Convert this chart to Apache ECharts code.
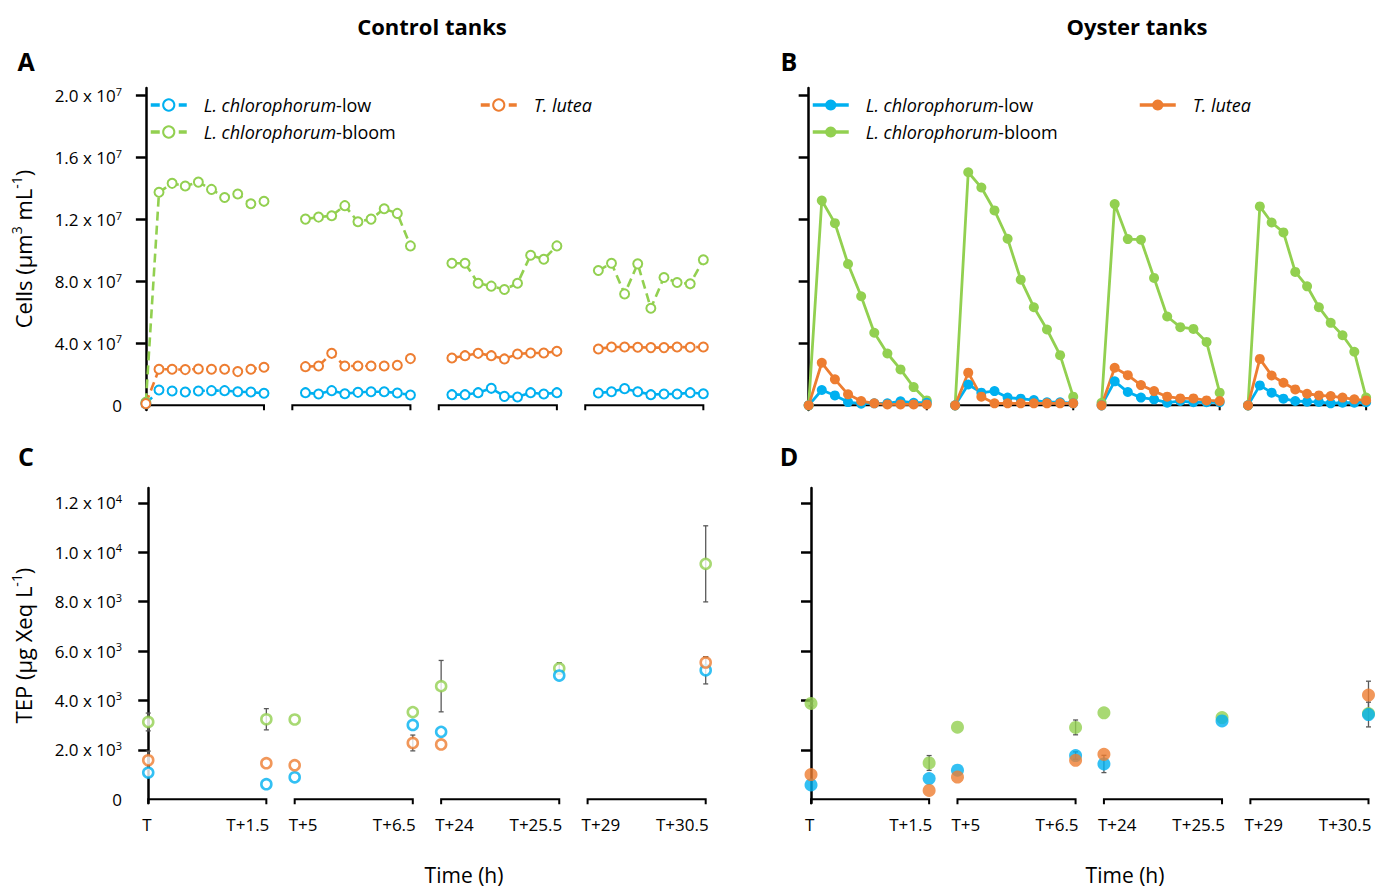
<!DOCTYPE html>
<html>
<head>
<meta charset="utf-8">
<style>
html, body { margin: 0; padding: 0; background: #fff; }
#chart { width: 1380px; height: 890px; }
</style>
<script src="https://cdn.jsdelivr.net/npm/echarts@6.0.0/dist/echarts.min.js"></script>
</head>
<body>
<div id="chart"></div>
<script>
// Sampling windows (labels of start / end of each 1.5 h window)
const windowStart = ['T', 'T+5', 'T+24', 'T+29'];
const windowEnd = ['T+1.5', 'T+6.5', 'T+25.5', 'T+30.5'];

// Sampling times inside each window (minutes after window start)
const minControl = [
  [0, 10, 20, 30, 40, 50, 60, 70, 80, 90],
  [10, 20, 30, 40, 50, 60, 70, 80, 90],
  [10, 20, 30, 40, 50, 60, 70, 80, 90],
  [10, 20, 30, 40, 50, 60, 70, 80, 90]
];
const minOyster = [
  [0, 10, 20, 30, 40, 50, 60, 70, 80, 90],
  [0, 10, 20, 30, 40, 50, 60, 70, 80, 90],
  [0, 10, 20, 30, 40, 50, 60, 70, 80, 90],
  [0, 9, 18, 27, 36, 45, 54, 63, 72, 81, 90]
];

// Cells, control tanks (x 10^7 um3/mL)
const lowA = [
  [0.01, 0.099, 0.093, 0.086, 0.093, 0.095, 0.095, 0.088, 0.086, 0.078],
  [0.082, 0.073, 0.095, 0.075, 0.084, 0.088, 0.088, 0.080, 0.067],
  [0.069, 0.069, 0.082, 0.110, 0.058, 0.054, 0.082, 0.073, 0.082],
  [0.080, 0.088, 0.108, 0.088, 0.069, 0.073, 0.073, 0.082, 0.075]
];
const bloomA = [
  [0.02, 1.376, 1.434, 1.417, 1.442, 1.395, 1.343, 1.365, 1.302, 1.318],
  [1.203, 1.216, 1.225, 1.290, 1.186, 1.203, 1.270, 1.240, 1.030],
  [0.918, 0.918, 0.789, 0.770, 0.748, 0.789, 0.970, 0.944, 1.030],
  [0.871, 0.918, 0.720, 0.914, 0.627, 0.826, 0.794, 0.785, 0.940]
];
const luteaA = [
  [0.011, 0.233, 0.233, 0.231, 0.235, 0.233, 0.233, 0.218, 0.233, 0.246],
  [0.250, 0.254, 0.336, 0.254, 0.254, 0.254, 0.254, 0.259, 0.302],
  [0.306, 0.321, 0.336, 0.321, 0.300, 0.332, 0.338, 0.338, 0.349],
  [0.364, 0.377, 0.377, 0.375, 0.373, 0.373, 0.377, 0.375, 0.377]
];

// Cells, oyster tanks (x 10^7 um3/mL)
const lowB = [
  [0, 0.099, 0.064, 0.021, 0.011, 0.013, 0.013, 0.026, 0.017, 0.017],
  [0, 0.135, 0.082, 0.092, 0.050, 0.043, 0.034, 0.020, 0.020, 0.013],
  [0, 0.155, 0.086, 0.050, 0.039, 0.017, 0.028, 0.020, 0.020, 0.020],
  [0, 0.129, 0.082, 0.043, 0.028, 0.024, 0.022, 0.013, 0.017, 0.017, 0.020]
];
const bloomB = [
  [0, 1.323, 1.177, 0.913, 0.705, 0.469, 0.335, 0.232, 0.118, 0.032],
  [0, 1.506, 1.407, 1.259, 1.076, 0.812, 0.634, 0.490, 0.324, 0.056],
  [0.017, 1.300, 1.074, 1.070, 0.823, 0.574, 0.505, 0.494, 0.410, 0.082],
  [0, 1.285, 1.181, 1.117, 0.862, 0.769, 0.634, 0.533, 0.453, 0.346, 0.050]
];
const luteaB = [
  [0, 0.275, 0.168, 0.071, 0.028, 0.013, 0.006, 0.006, 0.006, 0.006],
  [0, 0.211, 0.056, 0.013, 0.013, 0.013, 0.013, 0.013, 0.013, 0.013],
  [0, 0.243, 0.195, 0.131, 0.092, 0.056, 0.045, 0.045, 0.032, 0.028],
  [0, 0.300, 0.193, 0.146, 0.103, 0.075, 0.064, 0.060, 0.050, 0.039, 0.032]
];

// TEP (ug Xeq/L) at T, T+1.5, T+5, T+6.5, T+24, T+25.5, T+29, T+30.5
const tepLowC = [1080, 610, 890, 3010, 2730, 5010, null, 5220];
const tepLowCsd = [null, null, null, null, null, null, null, 550];
const tepBloomC = [3130, 3240, 3230, 3530, 4580, 5300, null, 9530];
const tepBloomCsd = [360, 430, null, null, 1040, 230, null, 1540];
const tepLuteaC = [1580, 1460, 1380, 2280, 2220, null, null, 5540];
const tepLuteaCsd = [370, null, null, 320, null, null, null, 230];

const tepLowD = [580, 840, 1180, 1770, 1430, 3170, null, 3430];
const tepLowDsd = [null, null, null, 150, 350, null, null, 500];
const tepBloomD = [3880, 1470, 2920, 2910, 3500, 3310, null, 3470];
const tepBloomDsd = [100, 300, null, 300, null, null, null, null];
const tepLuteaD = [1000, 360, 900, 1580, 1820, null, null, 4220];
const tepLuteaDsd = [null, null, null, null, null, null, null, 560];

// Y tick labels
const cellTicks = [0, 0.4, 0.8, 1.2, 1.6, 2.0];
const cellTickText = ['0', '4.0 x 10', '8.0 x 10', '1.2 x 10', '1.6 x 10', '2.0 x 10'];
const cellTickExp = ['', '7', '7', '7', '7', '7'];
const tepTicks = [0, 2000, 4000, 6000, 8000, 10000, 12000];
const tepTickText = ['0', '2.0 x 10', '4.0 x 10', '6.0 x 10', '8.0 x 10', '1.0 x 10', '1.2 x 10'];
const tepTickExp = ['', '3', '3', '3', '3', '4', '4'];

// layout of the broken time axis: where each window starts (h on plot)
const winPos = [0, 1.86, 3.72, 5.58];
const winLen = 1.5;

const BLUE = '#00B0F0';
const GREEN = '#92D050';
const ORANGE = '#ED7D31';
const FONT = '"Open Sans", "Noto Sans", sans-serif';

const legendText = {
  lowA: '{i|L. chlorophorum}{n|-low}',
  bloomA: '{i|L. chlorophorum}{n|-bloom}',
  luteaA: '{i|T. lutea}',
  lowB: '{i|L. chlorophorum}{n|-low}',
  bloomB: '{i|L. chlorophorum}{n|-bloom}',
  luteaB: '{i|T. lutea}'
};

function lineData(mins, vals) {
  const out = [];
  mins.forEach((m, s) => {
    m.forEach((t, i) => out.push([winPos[s] + t / 60, vals[s][i]]));
    out.push([winPos[s] + winLen + 0.1, null]);
  });
  return out;
}

function tepX(i) {
  return winPos[Math.floor(i / 2)] + (i % 2) * winLen;
}

function tepData(vals) {
  const out = [];
  vals.forEach((v, i) => { if (v != null) out.push([tepX(i), v]); });
  return out;
}

function errData(list) {
  const out = [];
  list.forEach(([vals, sd]) => {
    vals.forEach((v, i) => {
      if (v != null && sd[i] != null) out.push([tepX(i), v - sd[i], v + sd[i]]);
    });
  });
  return out;
}

function fmtTick(v, ticks, txt, exp) {
  const i = ticks.findIndex(t => Math.abs(t - v) < 1e-6);
  if (i < 0) return '';
  return exp[i] ? '{m|' + txt[i] + '}{e|' + exp[i] + '}' : '{m|' + txt[i] + '}';
}

const tickRich = {
  m: { fontSize: 17, fontFamily: FONT, color: '#000', lineHeight: 20 },
  e: { fontSize: 11, fontFamily: FONT, color: '#000', lineHeight: 9, verticalAlign: 'top' }
};

const nameRich = {
  a: { fontSize: 22, fontFamily: FONT, color: '#000', lineHeight: 28 },
  s: { fontSize: 14, fontFamily: FONT, color: '#000', lineHeight: 14, verticalAlign: 'top' }
};

function yAxisCfg(grid, min, max, ticks, txt, exp, showLabels, name) {
  return {
    type: 'value', gridIndex: grid, min: min, max: max,
    name: name || '', nameLocation: 'middle', nameGap: 101, nameRotate: 90,
    nameTextStyle: { rich: nameRich },
    axisLine: { show: true, lineStyle: { color: '#000', width: 2.5 } },
    axisTick: { show: true, length: 10, lineStyle: { color: '#000', width: 2.5 },
      customValues: ticks.slice(1) },
    axisLabel: { show: showLabels, margin: 16, customValues: ticks,
      formatter: v => fmtTick(v, ticks, txt, exp), rich: tickRich },
    splitLine: { show: false }
  };
}

function xAxisCfg(grid, min, max) {
  return { type: 'value', gridIndex: grid, min: min, max: max, show: false };
}

function bracketSeries(grid, withLabels) {
  return {
    type: 'custom', xAxisIndex: grid, yAxisIndex: grid, z: 1, clip: false, silent: true,
    data: winPos.map(p => [p, p + winLen, 0]),
    encode: { x: [0, 1], y: 2 },
    renderItem: function (params, api) {
      const a = api.coord([api.value(0), 0]);
      const b = api.coord([api.value(1), 0]);
      const y = a[1];
      const kids = [{
        type: 'polyline',
        shape: { points: [[a[0], y + 5], [a[0], y], [b[0], y], [b[0], y + 5]] },
        style: { stroke: '#000', lineWidth: 2, fill: null }
      }];
      if (withLabels) {
        kids.push({ type: 'text', x: a[0] - 6, y: y + 25,
          style: { text: windowStart[params.dataIndex], font: '17px ' + FONT, fill: '#000',
            textAlign: 'left', textVerticalAlign: 'middle' } });
        kids.push({ type: 'text', x: b[0] + 3, y: y + 25,
          style: { text: windowEnd[params.dataIndex], font: '17px ' + FONT, fill: '#000',
            textAlign: 'right', textVerticalAlign: 'middle' } });
      }
      return { type: 'group', children: kids };
    }
  };
}

function errSeries(grid, data) {
  return {
    type: 'custom', xAxisIndex: grid, yAxisIndex: grid, z: 2, silent: true,
    data: data, encode: { x: 0, y: [1, 2] },
    renderItem: function (params, api) {
      const x = api.value(0);
      const lo = api.coord([x, api.value(1)]);
      const hi = api.coord([x, api.value(2)]);
      const st = { stroke: '#595959', lineWidth: 1.3 };
      const w = 2.5;
      return { type: 'group', children: [
        { type: 'line', shape: { x1: lo[0], y1: lo[1], x2: hi[0], y2: hi[1] }, style: st },
        { type: 'line', shape: { x1: lo[0] - w, y1: lo[1], x2: lo[0] + w, y2: lo[1] }, style: st },
        { type: 'line', shape: { x1: hi[0] - w, y1: hi[1], x2: hi[0] + w, y2: hi[1] }, style: st }
      ] };
    }
  };
}

function controlLine(name, vals, color) {
  return {
    type: 'line', name: name, xAxisIndex: 0, yAxisIndex: 0, z: 3,
    data: lineData(minControl, vals), connectNulls: false,
    symbol: 'emptyCircle', symbolSize: 9,
    itemStyle: { color: color, borderWidth: 2.2 },
    lineStyle: { color: color, width: 2.6, type: [9, 5] },
    emphasis: { disabled: true }
  };
}

function oysterLine(name, vals, color) {
  return {
    type: 'line', name: name, xAxisIndex: 1, yAxisIndex: 1, z: 3,
    data: lineData(minOyster, vals), connectNulls: false,
    symbol: 'circle', symbolSize: 10,
    itemStyle: { color: color },
    lineStyle: { color: color, width: 2.8 },
    emphasis: { disabled: true }
  };
}

function tepScatter(grid, vals, color, open) {
  return {
    type: 'scatter', xAxisIndex: grid, yAxisIndex: grid, z: 3,
    data: tepData(vals), symbol: 'circle', symbolSize: open ? 10 : 13,
    itemStyle: open ? { color: '#fff', borderColor: color, borderWidth: 2.6 } : { color: color },
    emphasis: { disabled: true }
  };
}

function legendCfg(left, data) {
  return {
    left: left, top: 95, padding: 0, orient: 'vertical', itemWidth: 36, itemHeight: 14, itemGap: 7,
    data: data, selectedMode: false,
    lineStyle: { width: 3.5 },
    formatter: n => legendText[n],
    textStyle: {
      padding: [0, 0, 0, 12], lineHeight: 20,
      rich: {
        i: { fontSize: 18, fontStyle: 'italic', fontFamily: FONT, color: '#000' },
        n: { fontSize: 18, fontFamily: FONT, color: '#000' }
      }
    }
  };
}

function txt(text, x, y, size, bold) {
  return { type: 'text', x: x, y: y,
    style: { text: text, font: (bold ? 'bold ' : '') + size + 'px ' + FONT, fill: '#000',
      textAlign: 'center', textVerticalAlign: 'middle' } };
}

const chart = echarts.init(document.getElementById('chart'), null, { renderer: 'svg' });

chart.setOption({
  animation: false,
  backgroundColor: '#fff',
  grid: [
    { left: 138, top: 88, width: 574, height: 322 },
    { left: 800, top: 88, width: 574, height: 322 },
    { left: 138, top: 488, width: 574, height: 315 },
    { left: 800, top: 488, width: 574, height: 315 }
  ],
  xAxis: [
    xAxisCfg(0, -0.1, 7.19),
    xAxisCfg(1, -0.11, 7.18),
    xAxisCfg(2, -0.13, 7.16),
    xAxisCfg(3, -0.14, 7.15)
  ],
  yAxis: [
    yAxisCfg(0, -0.03, 2.05, cellTicks, cellTickText, cellTickExp, true,
      '{a|Cells (µm}{s|3}{a| mL}{s|-1}{a|)}'),
    yAxisCfg(1, -0.03, 2.05, cellTicks, cellTickText, cellTickExp, false),
    yAxisCfg(2, -150, 12600, tepTicks, tepTickText, tepTickExp, true,
      '{a|TEP (µg Xeq L}{s|-1}{a|)}'),
    yAxisCfg(3, -150, 12600, tepTicks, tepTickText, tepTickExp, false)
  ],
  legend: [
    legendCfg(149, ['lowA', 'bloomA']),
    legendCfg(479, ['luteaA']),
    legendCfg(811, ['lowB', 'bloomB']),
    legendCfg(1138, ['luteaB'])
  ],
  graphic: [
    txt('Control tanks', 432, 26, 22, true),
    txt('Oyster tanks', 1137, 26, 22, true),
    txt('A', 26, 61, 25, true),
    txt('B', 789, 61, 25, true),
    txt('C', 26, 456, 25, true),
    txt('D', 789, 456, 25, true),
    txt('Time (h)', 464, 875, 21, false),
    txt('Time (h)', 1125, 875, 21, false)
  ],
  series: [
    bracketSeries(0, false),
    bracketSeries(1, false),
    bracketSeries(2, true),
    bracketSeries(3, true),
    controlLine('bloomA', bloomA, GREEN),
    controlLine('lowA', lowA, BLUE),
    controlLine('luteaA', luteaA, ORANGE),
    oysterLine('bloomB', bloomB, GREEN),
    oysterLine('lowB', lowB, BLUE),
    oysterLine('luteaB', luteaB, ORANGE),
    errSeries(2, errData([[tepBloomC, tepBloomCsd], [tepLowC, tepLowCsd], [tepLuteaC, tepLuteaCsd]])),
    errSeries(3, errData([[tepBloomD, tepBloomDsd], [tepLowD, tepLowDsd], [tepLuteaD, tepLuteaDsd]])),
    tepScatter(2, tepBloomC, GREEN, true),
    tepScatter(2, tepLowC, BLUE, true),
    tepScatter(2, tepLuteaC, ORANGE, true),
    tepScatter(3, tepBloomD, GREEN, false),
    tepScatter(3, tepLowD, BLUE, false),
    tepScatter(3, tepLuteaD, ORANGE, false)
  ]
});
</script>
</body>
</html>
